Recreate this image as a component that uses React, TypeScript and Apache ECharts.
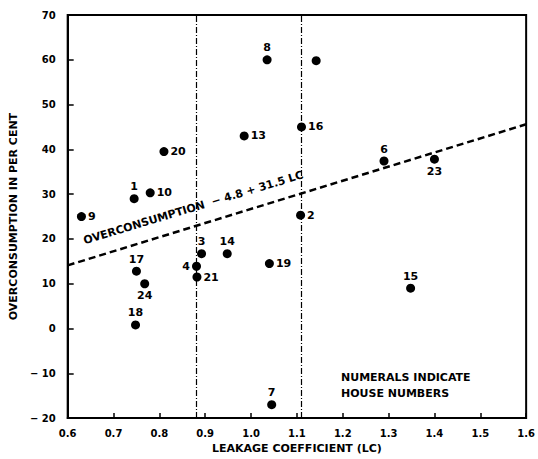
import React, { useEffect, useRef } from "react";
import * as echarts from "echarts";

const houseIds = ["9", "1", "10", "20", "8", "13", "", "16", "6", "23", "2", "3", "14", "4", "21", "17", "24", "18", "19", "15", "7"];
const leakage = [0.63, 0.745, 0.78, 0.81, 1.035, 0.985, 1.142, 1.11, 1.29, 1.4, 1.108, 0.892, 0.948, 0.881, 0.882, 0.75, 0.768, 0.748, 1.04, 1.348, 1.045];
const overconsumption = [25, 29, 30.3, 39.5, 60, 43, 59.8, 45, 37.4, 37.8, 25.3, 16.7, 16.7, 13.9, 11.5, 12.8, 10, 0.8, 14.5, 9, -17];
const labelSide: Record<string, string> = {
  "9": "right", "1": "top", "10": "right", "20": "right", "8": "top", "13": "right", "16": "right",
  "6": "top", "23": "bottom", "2": "right", "3": "top", "14": "top", "4": "left", "21": "right",
  "17": "top", "24": "bottom", "18": "top", "19": "right", "15": "top", "7": "top",
};
const xTicks = [0.6, 0.7, 0.8, 0.9, 1.0, 1.1, 1.2, 1.3, 1.4, 1.5, 1.6];
const yTicks = [-20, -10, 0, 10, 20, 30, 40, 50, 60, 70];
const dividers = [0.875, 1.11];
const fitIntercept = -4.8;
const fitSlope = 31.5;

const FONT = "DejaVu Sans";
const INK = "#000000";

export default function App() {
  const ref = useRef<HTMLDivElement>(null);
  useEffect(() => {
    if (!ref.current) return;
    const chart = echarts.init(ref.current, undefined, { renderer: "svg" });
    const xMin = xTicks[0];
    const xMax = xTicks[xTicks.length - 1];
    const fitLine = [xMin, xMax].map((x) => [x, fitIntercept + fitSlope * x]);
    const points = leakage.map((x, i) => ({
      value: [x, overconsumption[i]],
      label: {
        show: houseIds[i] !== "",
        formatter: houseIds[i],
        position: labelSide[houseIds[i]] || "right",
        distance: 2,
      },
    }));
    chart.setOption({
      animation: false,
      backgroundColor: "#ffffff",
      textStyle: { fontFamily: FONT, color: INK },
      grid: { left: 65, right: 4, top: 15, bottom: 38, show: true, borderColor: INK, borderWidth: 2, backgroundColor: "transparent" },
      xAxis: {
        type: "value",
        min: xMin,
        max: xMax,
        interval: 0.1,
        name: "LEAKAGE COEFFICIENT (LC)",
        nameLocation: "middle",
        nameGap: 21,
        nameTextStyle: { fontFamily: FONT, fontWeight: "bold", fontSize: 11, color: INK },
        axisLine: { show: true, onZero: false, lineStyle: { color: INK, width: 2 } },
        axisTick: { show: true, inside: true, length: 5, lineStyle: { color: INK, width: 1.5 } },
        splitLine: { show: false },
        axisLabel: {
          color: INK, fontWeight: "bold", fontSize: 10, fontFamily: FONT, margin: 10,
          formatter: (v: number) => v.toFixed(1),
        },
      },
      yAxis: {
        type: "value",
        min: yTicks[0],
        max: yTicks[yTicks.length - 1],
        interval: 10,
        name: "OVERCONSUMPTION IN PER CENT",
        nameLocation: "middle",
        nameGap: 46,
        nameTextStyle: { fontFamily: FONT, fontWeight: "bold", fontSize: 11, color: INK },
        axisLine: { show: true, onZero: false, lineStyle: { color: INK, width: 2 } },
        axisTick: { show: true, inside: true, length: 6, lineStyle: { color: INK, width: 1.5 } },
        splitLine: { show: false },
        axisLabel: {
          color: INK, fontWeight: "bold", fontSize: 10, fontFamily: FONT, margin: 12,
          formatter: (v: number) => (v < 0 ? "\u2212 " + Math.abs(v) : String(v)),
        },
      },
      series: [
        {
          type: "line",
          data: fitLine,
          symbol: "none",
          lineStyle: { color: INK, width: 2.5, type: [7, 4] },
          silent: true,
          z: 2,
          markLine: {
            silent: true,
            symbol: "none",
            label: { show: false },
            lineStyle: { color: INK, width: 1.2, type: [6, 2, 1, 2] },
            data: dividers.map((x) => ({ xAxis: x })),
          },
        },
        {
          type: "scatter",
          data: points,
          symbol: "circle",
          symbolSize: 9,
          itemStyle: { color: INK, opacity: 1 },
          label: { color: INK, fontFamily: FONT, fontWeight: "bold", fontSize: 11 },
          z: 3,
        },
      ],
      graphic: [
        {
          type: "text",
          x: 195,
          y: 213,
          rotation: (16.8 * Math.PI) / 180,
          style: {
            text: "OVERCONSUMPTION  \u2212 4.8 + 31.5 LC",
            fill: INK,
            font: "bold 11px 'DejaVu Sans'",
            textAlign: "center",
            textVerticalAlign: "bottom",
          },
        },
        {
          type: "text",
          x: 341,
          y: 369,
          style: {
            text: "NUMERALS INDICATE\nHOUSE NUMBERS",
            fill: INK,
            font: "bold 11px 'DejaVu Sans'",
            lineHeight: 16,
          },
        },
      ],
    });
    return () => chart.dispose();
  }, []);
  return <div ref={ref} style={{ position: "fixed", left: 0, top: 0, width: 538, height: 459 }} />;
}
